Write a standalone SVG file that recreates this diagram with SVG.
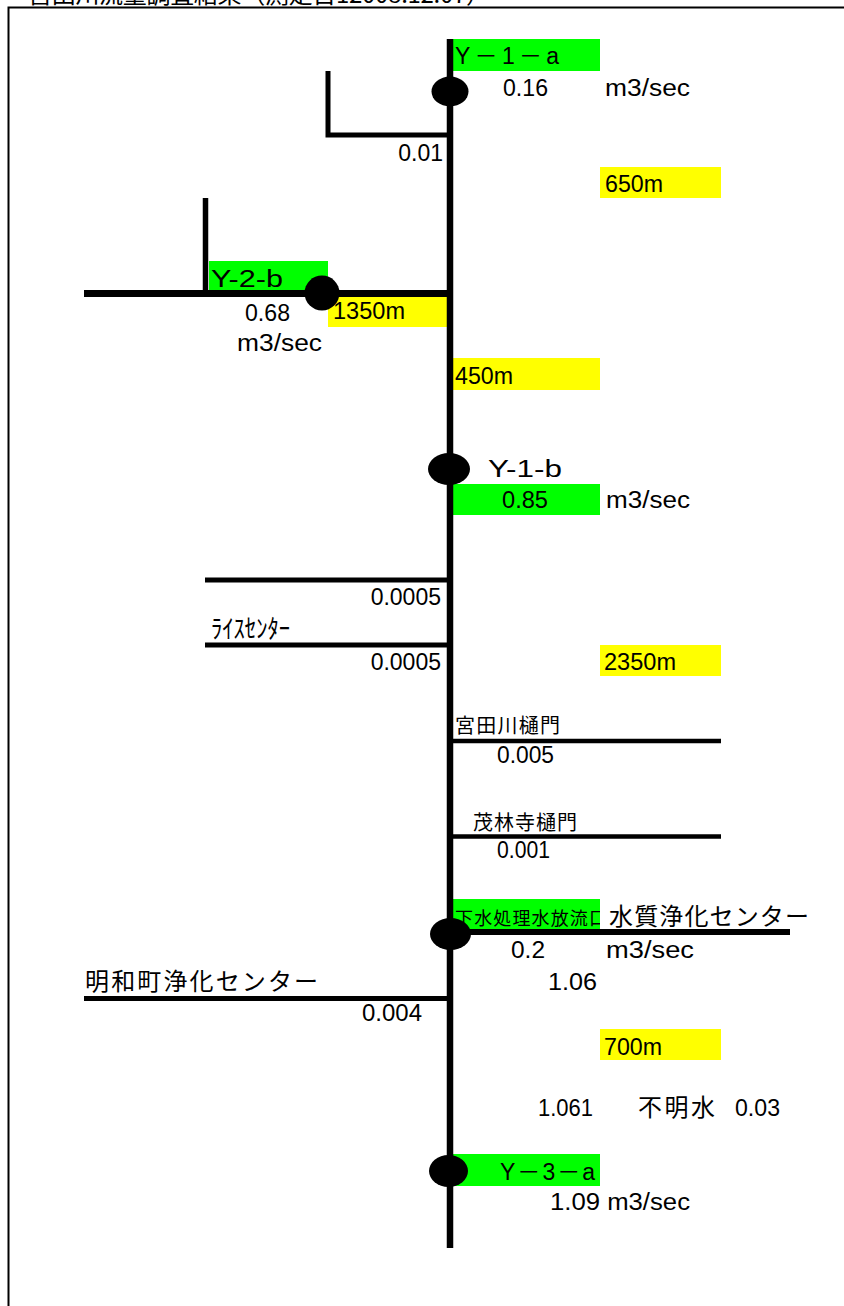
<svg xmlns="http://www.w3.org/2000/svg" width="844" height="1306" viewBox="0 0 844 1306">
<style>
.bg{fill:#fff}
.ln{stroke:#000;fill:none}
.dot{fill:#000}
.g{fill:#00ff00}
.y{fill:#ffff00}
.t{font-family:"Liberation Sans","Noto Sans CJK JP",sans-serif;font-size:23px;fill:#000}
.j{font-family:"Noto Sans CJK JP","Liberation Sans",sans-serif;fill:#000}
</style>
<defs>
<clipPath id="clipG"><rect x="453" y="899" width="147" height="31"/></clipPath>
</defs>
<rect class="bg" x="0" y="0" width="844" height="1306"/>
<text class="j" x="28" y="3" font-size="24" textLength="462">宮田川流量調査結果（測定日12008.12.07）</text>
<path class="ln" stroke-width="2" d="M8.5,1306 V7.5 H844"/>

<g id="boxes">
<rect class="g" x="453" y="39" width="147" height="32"/>
<rect class="y" x="600" y="167" width="121" height="31"/>
<rect class="g" x="209" y="261" width="119" height="29"/>
<rect class="y" x="328" y="297" width="119" height="30"/>
<rect class="y" x="453" y="358" width="147" height="32"/>
<rect class="g" x="452" y="484" width="148" height="31"/>
<rect class="y" x="600" y="645" width="121" height="31"/>
<rect class="g" x="453" y="899" width="147" height="31"/>
<rect class="y" x="600" y="1029" width="121" height="31"/>
<rect class="g" x="453" y="1154" width="147" height="32"/>
</g>

<g id="connectors">
<path class="ln" stroke-width="6.5" d="M450,39 V1248"/>
<path class="ln" stroke-width="5" d="M328,71 V135 H447"/>
<path class="ln" stroke-width="5.5" d="M205.5,198 V293"/>
<path class="ln" stroke-width="7" d="M84,293.5 H450"/>
<path class="ln" stroke-width="5" d="M205,580 H447"/>
<path class="ln" stroke-width="5" d="M205,645 H447"/>
<path class="ln" stroke-width="4.5" d="M453,741 H721"/>
<path class="ln" stroke-width="4.5" d="M453,836.5 H721"/>
<path class="ln" stroke-width="6" d="M453,932 H790"/>
<path class="ln" stroke-width="5" d="M84,998.5 H447"/>
</g>

<g id="node-Y1a">
<ellipse class="dot" cx="450" cy="91.5" rx="18.5" ry="15"/>
<text class="t" x="455" y="64" textLength="104">Y－1－a</text>
<text class="t" x="503" y="96" textLength="45" lengthAdjust="spacingAndGlyphs">0.16</text>
<text class="t" x="605" y="96" textLength="85" lengthAdjust="spacingAndGlyphs">m3/sec</text>
</g>

<g id="branch-001">
<text class="t" x="443" y="161" text-anchor="end">0.01</text>
</g>

<g id="dist-650">
<text class="t" x="605" y="192" textLength="58" lengthAdjust="spacingAndGlyphs">650m</text>
</g>

<g id="node-Y2b">
<ellipse class="dot" cx="322" cy="293" rx="17.5" ry="17.5"/>
<text class="t" x="211" y="287" textLength="72" lengthAdjust="spacingAndGlyphs">Y-2-b</text>
<text class="t" x="245" y="321" textLength="45" lengthAdjust="spacingAndGlyphs">0.68</text>
<text class="t" x="237" y="351" textLength="85" lengthAdjust="spacingAndGlyphs">m3/sec</text>
</g>

<g id="dist-1350">
<text class="t" x="333" y="319" textLength="72" lengthAdjust="spacingAndGlyphs">1350m</text>
</g>

<g id="dist-450">
<text class="t" x="455" y="384" textLength="58" lengthAdjust="spacingAndGlyphs">450m</text>
</g>

<g id="node-Y1b">
<ellipse class="dot" cx="449" cy="469" rx="21" ry="16"/>
<text class="t" x="488" y="477" textLength="74" lengthAdjust="spacingAndGlyphs">Y-1-b</text>
<text class="t" x="502" y="508" textLength="46" lengthAdjust="spacingAndGlyphs">0.85</text>
<text class="t" x="606" y="508" textLength="84" lengthAdjust="spacingAndGlyphs">m3/sec</text>
</g>

<g id="branch-rice1">
<text class="t" x="441" y="605" text-anchor="end">0.0005</text>
</g>

<g id="branch-rice2">
<text class="j" x="211" y="638" font-size="26" textLength="79" lengthAdjust="spacingAndGlyphs">ﾗｲｽｾﾝﾀｰ</text>
<text class="t" x="441" y="670" text-anchor="end">0.0005</text>
</g>

<g id="dist-2350">
<text class="t" x="604" y="670" textLength="72" lengthAdjust="spacingAndGlyphs">2350m</text>
</g>

<g id="branch-miyatagawa">
<text class="j" x="455" y="733" font-size="20" textLength="105">宮田川樋門</text>
<text class="t" x="497" y="763" textLength="57" lengthAdjust="spacingAndGlyphs">0.005</text>
</g>

<g id="branch-morinji">
<text class="j" x="473" y="830" font-size="20" textLength="104">茂林寺樋門</text>
<text class="t" x="497" y="858" textLength="53" lengthAdjust="spacingAndGlyphs">0.001</text>
</g>

<g id="node-outfall">
<ellipse class="dot" cx="450.5" cy="934" rx="20.5" ry="16"/>
<text class="j" x="455" y="925" font-size="18" textLength="152" clip-path="url(#clipG)">下水処理水放流口</text>
<text class="j" x="609" y="925" font-size="24" textLength="200">水質浄化センター</text>
<text class="t" x="511" y="958" textLength="34" lengthAdjust="spacingAndGlyphs">0.2</text>
<text class="t" x="606" y="958" textLength="88" lengthAdjust="spacingAndGlyphs">m3/sec</text>
<text class="t" x="548" y="990" textLength="49" lengthAdjust="spacingAndGlyphs">1.06</text>
</g>

<g id="branch-meiwa">
<text class="j" x="85" y="990" font-size="24" textLength="233">明和町浄化センター</text>
<text class="t" x="362" y="1021" textLength="60" lengthAdjust="spacingAndGlyphs">0.004</text>
</g>

<g id="dist-700">
<text class="t" x="604" y="1055" textLength="58" lengthAdjust="spacingAndGlyphs">700m</text>
</g>

<g id="unknown-water">
<text class="t" x="538" y="1116" textLength="55" lengthAdjust="spacingAndGlyphs">1.061</text>
<text class="j" x="638" y="1116" font-size="24" textLength="77">不明水</text>
<text class="t" x="735" y="1116" textLength="45" lengthAdjust="spacingAndGlyphs">0.03</text>
</g>

<g id="node-Y3a">
<ellipse class="dot" cx="448.5" cy="1171" rx="19.5" ry="16"/>
<text class="t" x="500" y="1180" textLength="95">Y－3－a</text>
<text class="t" x="550" y="1210" textLength="140" lengthAdjust="spacingAndGlyphs">1.09 m3/sec</text>
</g>
</svg>
